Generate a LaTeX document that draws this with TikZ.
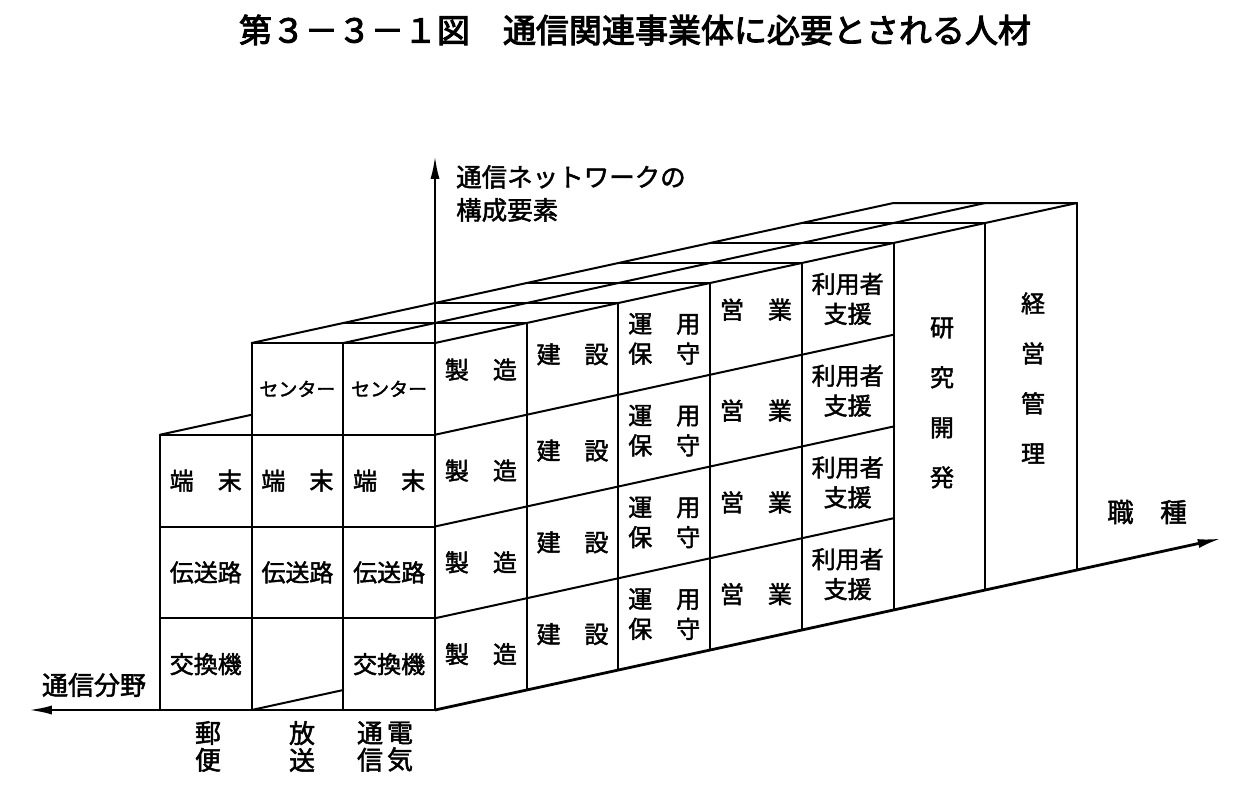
\documentclass[tikz,border=0pt]{standalone}
\usepackage{fontspec}
\usetikzlibrary{arrows.meta}
\newfontfamily\jp{Noto Sans CJK JP}[FakeBold=1.8]
\newfontfamily\jpt{Noto Sans CJK JP}[FakeBold=3]
\begin{document}
\begin{tikzpicture}[x=1pt,y=-1pt,
  ln/.style={line width=2pt, line cap=round, line join=round},
  ax/.style={line width=2.8pt, -{Latex[length=24pt,width=9pt]}},
  lab/.style={font=\jp\fontsize{24}{30}\selectfont, inner sep=0pt, align=center},
  sml/.style={font=\jp\fontsize{19}{24}\selectfont, inner sep=0pt},
  vlab/.style={font=\jp\fontsize{24}{50}\selectfont, inner sep=0pt, align=center},
  axl/.style={font=\jp\fontsize{26}{27}\selectfont, inner sep=0pt, align=center},
  ttl/.style={font=\jpt\fontsize{33}{36}\selectfont, inner sep=0pt}]
\useasboundingbox (0,0) rectangle (1243,785);
\fill[white] (0,0) rectangle (1243,785);

\node[ttl] (title) at (635,30) {第３－３－１図　通信関連事業体に必要とされる人材};

\begin{scope}[shift={(435pt,-710pt)}, x={(-91.7pt,0pt)}, y={(0pt,91.75pt)}, z={(91.7pt,20pt)}]
  % front face
  \draw[ln] (3,0,0) -- (3,3,0) -- (0,3,0);
  \draw[ln] (2,0,0) -- (2,4,0) -- (0,4,0);
  \draw[ln] (1,0,0) -- (1,4,0);
  \draw[ln] (3,1,0) -- (0,1,0);
  \draw[ln] (3,2,0) -- (0,2,0);
  \draw[ln] (3,3,0) -- (3,3,1);
  \draw[ln] (2,0,0) -- (2,0,1);
  % side face
  \foreach \w in {1,...,7} \draw[ln] (0,0,\w) -- (0,4,\w);
  \foreach \v in {1,2,3} \draw[ln] (0,\v,0) -- (0,\v,5);
  \draw[ln] (0,4,0) -- (0,4,7);
  % top face
  \draw[ln] (1,4,0) -- (1,4,7);
  \draw[ln] (2,4,0) -- (2,4,7) -- (0,4,7);
  \foreach \w in {1,...,6} \draw[ln] (0,4,\w) -- (2,4,\w);

  % axes
  \coordinate (O) at (0,0,0);
  \coordinate (tipL) at (4.44,0,0);
  \coordinate (tipU) at (0,6.05,0);
  \coordinate (tipR) at (0,0,8.58);
  \draw[ax] (O) -- (tipL);
  \draw[ax] (O) -- (tipU);
  \draw[ax] (O) -- (tipR);

  % front labels
  \node[lab] (p3) at (2.5,2.5,0) {端　末};
  \node[lab] (p2) at (2.5,1.5,0) {伝送路};
  \node[lab] (p1) at (2.5,0.5,0) {交換機};
  \node[sml] (b4) at (1.5,3.5,0) {センター};
  \node[lab] (b3) at (1.5,2.5,0) {端　末};
  \node[lab] (b2) at (1.5,1.5,0) {伝送路};
  \node[sml] (t4) at (0.5,3.5,0) {センター};
  \node[lab] (t3) at (0.5,2.5,0) {端　末};
  \node[lab] (t2) at (0.5,1.5,0) {伝送路};
  \node[lab] (t1) at (0.5,0.5,0) {交換機};

  % side labels
  \foreach \v in {0,...,2} {
    \node[lab] (mfg\v) at (0,{\v+0.5},0.5) {製　造};
    \node[lab] (con\v) at (0,{\v+0.5},1.5) {建　設};
    \node[lab] (sal\v) at (0,{\v+0.5},3.5) {営　業};
  }
  \node[lab] (mfg3) at (0,3.6,0.5) {製　造};
  \node[lab] (con3) at (0,3.55,1.5) {建　設};
  \node[lab] (sal3) at (0,3.6,3.5) {営　業};
  \foreach \v in {0,...,3} {
    \node[lab] (ops\v) at (0,{\v+0.5},2.5) {運　用\\保　守};
    \node[lab] (sup\v) at (0,{\v+0.5},4.5) {利用者\\支援};
  }
\end{scope}

\node[vlab] (rd) at (942,403) {研\\究\\開\\発};
\node[vlab] (mg) at (1033,378) {経\\営\\管\\理};

% axis labels
\node[axl, align=left, anchor=west, font=\jp\fontsize{25.5}{33}\selectfont] (ylab) at (456,193.5) {通信ネットワークの\\構成要素};
\node[axl] (xlab) at (94,685) {通信分野};
\node[axl, font=\jp\fontsize{26.5}{27}\selectfont] (wlab) at (1147,512) {職　種};
\node[axl] (yubin) at (208,746.5) {郵\\便};
\node[axl] (hoso) at (302,746.5) {放\\送};
\node[axl] (denki) at (400,746.5) {電\\気};
\node[axl] (tsushin) at (370,746.5) {通\\信};
\end{tikzpicture}
\end{document}
